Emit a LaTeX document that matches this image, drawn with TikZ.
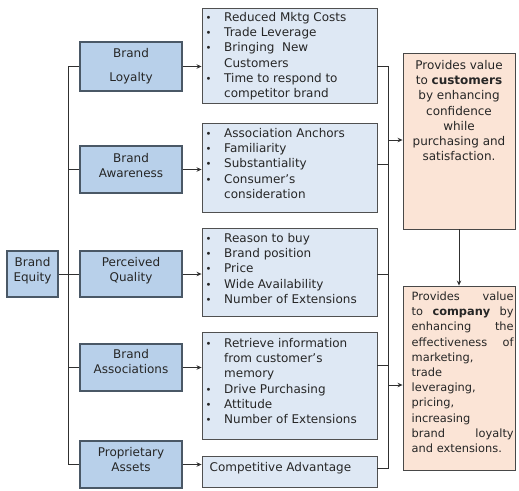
\documentclass[tikz,border=0pt]{standalone}
\usepackage{fontspec}
\setmainfont{DejaVu Sans}
\usetikzlibrary{arrows.meta,fit}
\definecolor{catfill}{HTML}{B8D0EA}
\definecolor{catdraw}{HTML}{4A5866}
\definecolor{listfill}{HTML}{DEE8F4}
\definecolor{listdraw}{HTML}{505050}
\definecolor{orfill}{HTML}{FBE4D6}
\definecolor{ordraw}{HTML}{484848}
\definecolor{linec}{HTML}{303030}
\newcommand\blt{{\fontsize{10}{15.2}\selectfont •}}
\begin{document}
\begin{tikzpicture}[x=1pt,y=-1pt,
  font=\fontsize{12}{15.2}\selectfont,
  catbox/.style={draw=catdraw,fill=catfill,line width=1.2pt,inner sep=0pt},
  listbox/.style={draw=listdraw,fill=listfill,line width=0.9pt,inner sep=0pt},
  orbox/.style={draw=ordraw,fill=orfill,line width=0.9pt,inner sep=0pt},
  txt/.style={inner sep=0pt,text=black!85},
  conn/.style={draw=linec,line width=0.9pt},
  arr/.style={conn,-{Stealth[length=5pt,width=4.5pt]}}]
\useasboundingbox (0,0) rectangle (519,490);
\fill[white] (0,0) rectangle (519,490);
% category boxes
\node[catbox,fit={(7,251) (58,297)}] (be) {};
\node[catbox,fit={(80,42) (182,91)}] (bl) {};
\node[catbox,fit={(80,146) (182,193)}] (ba) {};
\node[catbox,fit={(80,251) (182,297)}] (pq) {};
\node[catbox,fit={(80,344) (182,391)}] (bas) {};
\node[catbox,fit={(80,441) (182,488)}] (pa) {};
% list boxes
\node[listbox,fit={(202,8) (377,103)}] (l1) {};
\node[listbox,fit={(202,123) (377,212)}] (l2) {};
\node[listbox,fit={(202,228) (377,316)}] (l3) {};
\node[listbox,fit={(202,332) (377,439)}] (l4) {};
\node[listbox,fit={(202,456) (377,487)}] (l5) {};
% value boxes
\node[orbox,fit={(403,53) (515,229)}] (cu) {};
\node[orbox,fit={(403,286) (515,470)}] (co) {};
% category texts
\node[txt,anchor=north] (bet) at (32.5,255.7) {\begin{tabular}{@{}c@{}}Brand\\Equity\end{tabular}};
\node[txt,anchor=north] (blt) at (131,46.7) {\begin{tabular}{@{}c@{}}Brand\\[8.8pt]Loyalty\end{tabular}};
\node[txt,anchor=north] (bat) at (131,151.7) {\begin{tabular}{@{}c@{}}Brand\\Awareness\end{tabular}};
\node[txt,anchor=north] (pqt) at (131,255.7) {\begin{tabular}{@{}c@{}}Perceived\\Quality\end{tabular}};
\node[txt,anchor=north] (bast) at (131,347.7) {\begin{tabular}{@{}c@{}}Brand\\Associations\end{tabular}};
\node[txt,anchor=north] (pat) at (131,445.7) {\begin{tabular}{@{}c@{}}Proprietary\\Assets\end{tabular}};
% list texts
\node[txt,anchor=north west] (l1t) at (205.5,10.7) {\begin{tabular}{@{}p{18.5pt}@{}l@{}}
\blt & Reduced Mktg Costs\\
\blt & Trade Leverage\\
\blt & Bringing\ \ New\\
 & Customers\\
\blt & Time to respond to\\
 & competitor brand\end{tabular}};
\node[txt,anchor=north west] (l2t) at (205.5,126.7) {\begin{tabular}{@{}p{18.5pt}@{}l@{}}
\blt & Association Anchors\\
\blt & Familiarity\\
\blt & Substantiality\\
\blt & Consumer’s\\
 & consideration\end{tabular}};
\node[txt,anchor=north west] (l3t) at (205.5,231.7) {\begin{tabular}{@{}p{18.5pt}@{}l@{}}
\blt & Reason to buy\\
\blt & Brand position\\
\blt & Price\\
\blt & Wide Availability\\
\blt & Number of Extensions\end{tabular}};
\node[txt,anchor=north west] (l4t) at (205.5,336.7) {\begin{tabular}{@{}p{18.5pt}@{}l@{}}
\blt & Retrieve information\\
 & from customer’s\\
 & memory\\
\blt & Drive Purchasing\\
\blt & Attitude\\
\blt & Number of Extensions\end{tabular}};
\node[txt,anchor=north west] (l5t) at (209.5,460.7) {\begin{tabular}{@{}l@{}}Competitive Advantage\end{tabular}};
% value texts
\node[txt,anchor=north] (cut) at (459,58.7) {\begin{tabular}{@{}c@{}}
Provides value\\
to \textbf{customers}\\
by enhancing\\
confidence\\
while\\
purchasing and\\
satisfaction.\end{tabular}};
\node[txt,anchor=north west,font=\fontsize{11.4}{15.2}\selectfont] (cot) at (411.5,289.7) {\begin{tabular}{@{}l@{}}
\makebox[102pt][s]{Provides value}\\
\makebox[102pt][s]{to \textbf{company} by}\\
\makebox[102pt][s]{enhancing the}\\
\makebox[102pt][s]{effectiveness of}\\
marketing,\\
trade\\
leveraging,\\
pricing,\\
increasing\\
\makebox[102pt][s]{brand loyalty}\\
and extensions.\end{tabular}};
% left trunk
\draw[conn] (bl.west) -- ++(-11,0) |- (pa.west);
\draw[conn] (ba.west) -- ++(-11,0);
\draw[conn] (bas.west) -- ++(-11,0);
\draw[conn] (be.east) -- (pq.west);
% arrows to lists
\draw[arr] (bl.east) -- (bl.east -| l1.west);
\draw[arr] (ba.east) -- (ba.east -| l2.west);
\draw[arr] (pq.east) -- (pq.east -| l3.west);
\draw[arr] (bas.east) -- (bas.east -| l4.west);
\draw[arr] (pa.east) -- (pa.east -| l5.west);
% right bus
\coordinate (j1) at (388,66);
\coordinate (j2) at (388,164);
\coordinate (j3) at (388,274);
\coordinate (j4) at (388,365);
\coordinate (j5) at (388,468);
\coordinate (a1) at (388,140);
\coordinate (a2) at (388,385);
\draw[conn] (j1 -| l1.east) -- (j1) -- (j5) -- (j5 -| l5.east);
\draw[conn] (j2 -| l2.east) -- (j2);
\draw[conn] (j3 -| l3.east) -- (j3);
\draw[conn] (j4 -| l4.east) -- (j4);
\draw[arr] (a1) -- (a1 -| cu.west);
\draw[arr] (a2) -- (a2 -| co.west);
\draw[arr] (cu.south) -- (co.north);
\end{tikzpicture}
\end{document}
